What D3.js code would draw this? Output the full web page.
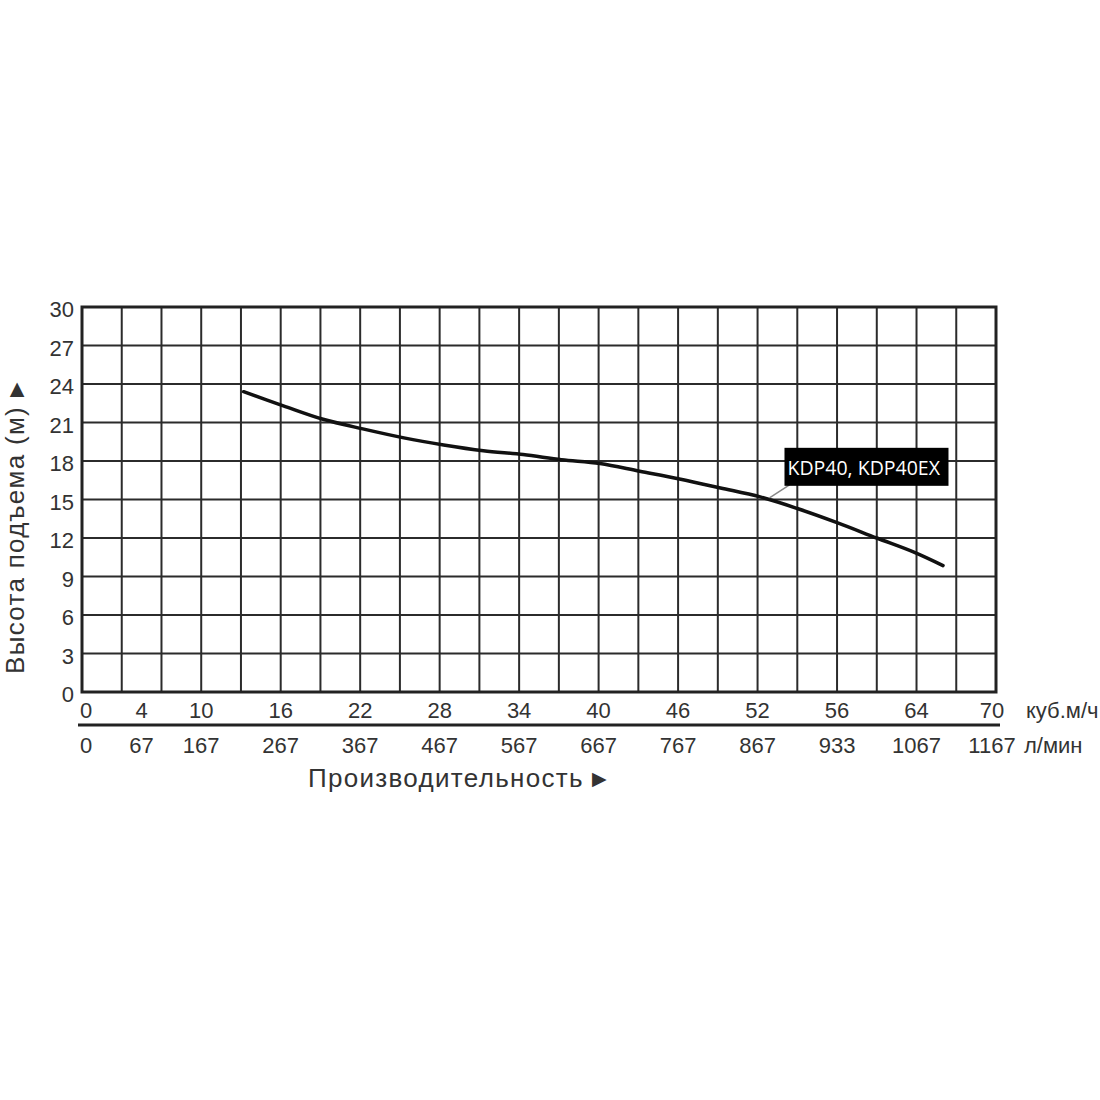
<!DOCTYPE html>
<html>
<head>
<meta charset="utf-8">
<script src="https://cdn.jsdelivr.net/npm/d3@7"></script>
<style>
  body { margin: 0; background: #fff; }
  text { font-family: "Liberation Sans", Arial, sans-serif; fill: #333; }
</style>
</head>
<body>
<div id="chart"></div>
<script>
// curve: flow in m3/h, head in m
const flow = [12.2, 15.2, 18.2, 21.2, 24.3, 27.3, 30.3, 33.3, 36.2, 39.1, 42.1, 45.1, 48.2, 51.2, 54.0, 57.0, 60.0, 62.8, 65.0];
const head = [23.4, 22.3, 21.25, 20.5, 19.8, 19.25, 18.8, 18.5, 18.1, 17.8, 17.2, 16.6, 15.9, 15.2, 14.3, 13.2, 12.0, 10.9, 9.85];

// x tick labels (two rows) and where they sit on the flow axis
const tickAt = [0, 4.5, 9, 15, 21, 27, 33, 39, 45, 51, 57, 63, 69];
const flowLabels = ["0", "4", "10", "16", "22", "28", "34", "40", "46", "52", "56", "64", "70"];
const lpmLabels = ["0", "67", "167", "267", "367", "467", "567", "667", "767", "867", "933", "1067", "1167"];
const headTicks = [0, 3, 6, 9, 12, 15, 18, 21, 24, 27, 30];

const seriesName = "KDP40, KDP40EX";
const labelAt = 51.9;  // flow where the callout points

const width = 1100, height = 1100;
const margin = {left: 82, top: 307, right: 104, bottom: 408};

let svg = d3.select("#chart")
    .append("svg")
    .attr("width", width)
    .attr("height", height);

let x = d3.scaleLinear()
    .domain([0, 69])
    .range([margin.left, width - margin.right]);

let y = d3.scaleLinear()
    .domain([0, 30])
    .range([height - margin.bottom, margin.top]);

let grid = svg.append("g")
    .attr("stroke", "#2b2b2b")
    .attr("stroke-width", 2);

// vertical grid, one line per 3 m3/h
grid.selectAll("line.v")
    .data(d3.range(0, 70, 3))
    .enter()
    .append("line")
    .attr("class", "v")
    .attr("x1", d => x(d)).attr("x2", d => x(d))
    .attr("y1", y(30)).attr("y2", y(0));

grid.selectAll("line.h")
    .data(headTicks)
    .enter()
    .append("line")
    .attr("class", "h")
    .attr("x1", x(0)).attr("x2", x(69))
    .attr("y1", d => y(d)).attr("y2", d => y(d));

// outer frame
svg.append("rect")
    .attr("x", x(0)).attr("y", y(30))
    .attr("width", x(69) - x(0))
    .attr("height", y(0) - y(30))
    .attr("fill", "none")
    .attr("stroke", "#222")
    .attr("stroke-width", 3);

// y tick labels
svg.append("g").selectAll("text")
    .data(headTicks)
    .enter()
    .append("text")
    .attr("x", x(0) - 8)
    .attr("y", d => y(d) + 10)
    .style("text-anchor", "end")
    .style("font-size", "22px")
    .text(d => d);

// two rows of flow labels
function tickRow(labels, baseline, cls) {
    svg.append("g").selectAll("text." + cls)
        .data(labels)
        .enter()
        .append("text")
        .attr("class", cls)
        .attr("x", (d, i) => x(tickAt[i]) + (i === 0 ? 4 : 0) + (i === labels.length - 1 ? -4 : 0))
        .attr("y", baseline)
        .style("text-anchor", "middle")
        .style("font-size", "22px")
        .text(d => d);
}
tickRow(flowLabels, y(0) + 26, "q");
tickRow(lpmLabels, y(0) + 61, "l");

// line between the two rows
svg.append("line")
    .attr("x1", x(0) - 4).attr("x2", x(69) + 4)
    .attr("y1", y(0) + 33).attr("y2", y(0) + 33)
    .attr("stroke", "#222")
    .attr("stroke-width", 3);

svg.append("text")
    .attr("x", x(69) + 30)
    .attr("y", y(0) + 26)
    .style("font-size", "22px")
    .text("куб.м/ч");

svg.append("text")
    .attr("x", x(69) + 28)
    .attr("y", y(0) + 61)
    .style("font-size", "22px")
    .text("л/мин");

// axis titles
let xTitle = svg.append("text")
    .attr("x", 308)
    .attr("y", y(0) + 95)
    .style("font-size", "26px")
    .style("letter-spacing", "1.3px");
xTitle.append("tspan").text("Производительность ");
xTitle.append("tspan").style("font-size", "19px").attr("dy", -2).text("▶");

let yTitle = svg.append("text")
    .attr("transform", `translate(24, ${(y(0) + y(30)) / 2 + 28}) rotate(-90)`)
    .style("text-anchor", "middle")
    .style("font-size", "26px")
    .style("letter-spacing", "1.3px");
yTitle.append("tspan").text("Высота подъема (м) ");
yTitle.append("tspan").style("font-size", "19px").attr("dy", -2).text("▶");

// the pump curve
let pts = flow.map((d, i) => [d, head[i]]);
let line = d3.line()
    .x(d => x(d[0]))
    .y(d => y(d[1]))
    .curve(d3.curveCatmullRom);

svg.append("path")
    .datum(pts)
    .attr("d", line)
    .attr("fill", "none")
    .attr("stroke", "#111")
    .attr("stroke-width", 3.5)
    .attr("stroke-linecap", "round");

// callout
let ax = x(labelAt);
let ay = y(d3.interpolateNumber(15.2, 14.3)((labelAt - 51.2) / 2.8)) - 2;

svg.append("line")
    .attr("x1", ax).attr("y1", ay)
    .attr("x2", ax + 20).attr("y2", ay - 13)
    .attr("stroke", "#888")
    .attr("stroke-width", 1.5);

let box = svg.append("g").attr("transform", `translate(${ax + 15}, ${ay - 50})`);
box.append("rect")
    .attr("width", 164)
    .attr("height", 38)
    .attr("fill", "#000");
box.append("text")
    .attr("x", 3)
    .attr("y", 27)
    .style("font-family", "'Open Sans', sans-serif")
    .style("font-size", "19.5px")
    .style("fill", "#fff")
    .text(seriesName);
</script>
</body>
</html>
